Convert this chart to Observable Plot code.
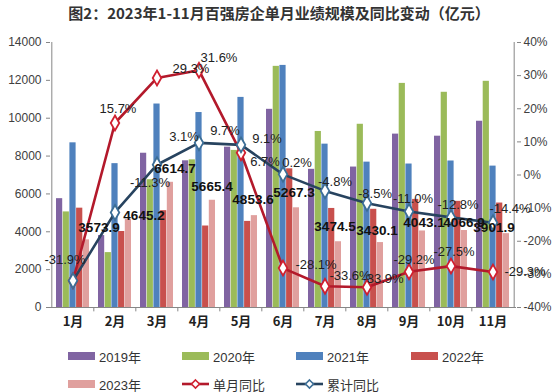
<!DOCTYPE html>
<html><head><meta charset="utf-8">
<script src="https://cdn.jsdelivr.net/npm/d3@7"></script>
<script src="https://cdn.jsdelivr.net/npm/@observablehq/plot@0.6"></script>
<style>
body{margin:0;background:#fff;}
#wrap{position:relative;width:558px;height:392px;overflow:hidden;font-family:"Liberation Sans",Arial,sans-serif;background:#fff;}
#title{position:absolute;left:0;top:0;width:558px;text-align:center;font-weight:bold;font-size:15px;font-family:"Noto Sans CJK SC",sans-serif;line-height:26px;color:#333;}
#chart{position:absolute;left:0;top:28px;}
.lg{position:absolute;height:16px;display:flex;align-items:center;font-size:13px;color:#333;font-family:"Liberation Sans","Noto Sans CJK SC",sans-serif;}
.sw{width:27px;height:8px;margin-right:4px;}
.lg svg{margin-right:4px;}
</style></head><body>
<div id="wrap">
<div id="title">图2：2023年1-11月百强房企单月业绩规模及同比变动（亿元）</div>
<div id="chart"></div>
<div id="legend"></div>
</div>
<script>
const months = ["1月","2月","3月","4月","5月","6月","7月","8月","9月","10月","11月"];
const v2019 = [5750, 3800, 8150, 7750, 8470, 10470, 7300, 7420, 9160, 9050, 9840];
const v2020 = [5050, 2900, 6750, 7800, 8300, 12740, 9300, 9680, 11840, 11370, 11950];
const v2021 = [8700, 7600, 10750, 10300, 11100, 12790, 8630, 7680, 7580, 7740, 7470];
const v2022 = [5248, 4015, 5116, 4305, 4549, 7326, 5233, 5189, 5711, 5609, 5519];
const v2023 = [3573.9, 4645.2, 6614.7, 5665.4, 4853.6, 5267.3, 3474.5, 3430.1, 4043.1, 4066.9, 3901.9];
const monthlyYoY = [-31.9, 15.7, 29.3, 31.6, 6.7, -28.1, -33.6, -33.9, -29.2, -27.5, -29.3];
const cumulativeYoY = [-31.9, -11.3, 3.1, 9.7, 9.1, 0.2, -4.8, -8.5, -11.0, -12.8, -14.4];
const leftTicks = [0, 2000, 4000, 6000, 8000, 10000, 12000, 14000];
const rightTicks = [-40, -30, -20, -10, 0, 10, 20, 30, 40];
const seriesNames = ["2019年","2020年","2021年","2022年","2023年"];
const lineNames = ["单月同比","累计同比"];

// styling (not data)
const colors = ["#8064A2","#9BBB59","#4F81BD","#C8504D","#E0A09E"];
const redLine = "#B3192B", blueLine = "#27435F";
const mOff = [null,[3,-14],[34,-9],[20,-12],[24,9],[33,-3],[25,-10],[16,-8],[5,-12],[3,-14],[32,0]];
const cOff = [[-8,-21],[35,-30],[27,-28],[26,-12],[26,-6],[14,-12],[10,-9],[8,-9],[4,-13],[7,-13],[17,-14]];
const bOff = [[26,-12],[29,-4],[18,-14],[13,-14],[12,-16],[11,-15],[10,-15],[10,-12],[15,-8],[13,-8],[1,-6]];

const YMAX = 14000;
const pct = p => (p + 40) / 80 * YMAX;
const rows = months.map((m, i) => ({m, i, v19: v2019[i], v20: v2020[i], v21: v2021[i], v22: v2022[i], v23: v2023[i], my: pct(monthlyYoY[i]), cy: pct(cumulativeYoY[i]), mLabel: monthlyYoY[i].toFixed(1) + "%", cLabel: cumulativeYoY[i].toFixed(1) + "%", bLabel: v2023[i].toFixed(1)}));
const keys = ["v19","v20","v21","v22","v23"];
const BW = 6.7;
const step = 466 / 11;
const axisColor = "#868686";

const marks = [];
keys.forEach((k, j) => {
  marks.push(Plot.barY(rows, {x: "m", y: k, fill: colors[j], insetLeft: j * BW, insetRight: (4 - j) * BW}));
});
// axes lines
marks.push(Plot.ruleY([0], {stroke: axisColor}));
marks.push(Plot.ruleX([months[0]], {x: d => d, dx: -step / 2, y1: 0, y2: YMAX, stroke: axisColor}));
marks.push(Plot.ruleX([months[10]], {x: d => d, dx: step / 2, y1: 0, y2: YMAX, stroke: axisColor}));
marks.push(Plot.ruleX(months.slice(1), {x: d => d, dx: -step / 2, y1: 0, y2: -230, stroke: axisColor}));
marks.push(Plot.axisY({ticks: leftTicks, tickFormat: d => String(d), tickSize: 4, tickPadding: 5, fontSize: 12, label: null, color: "#404040", stroke: axisColor}));
marks.push(Plot.axisY({anchor: "right", ticks: rightTicks.map(pct), tickFormat: v => Math.round(v / YMAX * 80 - 40) + "%", tickSize: 4, tickPadding: 3, fontSize: 12, label: null, color: "#404040", stroke: axisColor}));
marks.push(Plot.axisX({tickSize: 0, tickPadding: 9, fontSize: 13, fontWeight: "bold", label: null, color: "#222", fontFamily: "Noto Sans CJK SC"}));
// lines
marks.push(Plot.line(rows, {x: "m", y: "my", stroke: redLine, strokeWidth: 2.6}));
marks.push(Plot.line(rows, {x: "m", y: "cy", stroke: blueLine, strokeWidth: 2.6}));
marks.push(Plot.dot(rows, {x: "m", y: "my", symbol: "diamond", r: 4.5, fill: "white", stroke: "#D02030", strokeWidth: 1.8}));
marks.push(Plot.dot(rows, {x: "m", y: "cy", symbol: "diamond", r: 4.5, fill: "white", stroke: "#3C6E96", strokeWidth: 1.8}));
// labels
rows.forEach((r, i) => {
  if (mOff[i]) marks.push(Plot.text([r], {x: "m", y: "my", text: "mLabel", dx: mOff[i][0], dy: mOff[i][1], fontSize: 13, fill: "#222"}));
  marks.push(Plot.text([r], {x: "m", y: "cy", text: "cLabel", dx: cOff[i][0], dy: cOff[i][1], fontSize: 13, fill: "#222"}));
  marks.push(Plot.text([r], {x: "m", y: "v23", text: "bLabel", dx: bOff[i][0], dy: bOff[i][1], fontSize: 13.5, fontWeight: "bold", fill: "#111"}));
});

const chart = Plot.plot({
  width: 558, height: 322,
  marginLeft: 50, marginRight: 42, marginTop: 14, marginBottom: 43,
  x: {type: "band", domain: months, paddingInner: 0.21, paddingOuter: 0.105, axis: null},
  y: {domain: [0, YMAX], axis: null},
  style: {fontFamily: "Liberation Sans, Arial, sans-serif", background: "transparent", overflow: "visible"},
  marks
});
document.getElementById("chart").appendChild(chart);

// legend
const lg = document.getElementById("legend");
const colX = [68, 182, 296, 411];
const items = [];
seriesNames.forEach((n, j) => items.push({type: "box", name: n, color: colors[j]}));
items.push({type: "line", name: lineNames[0], color: redLine, mk: "#D02030"});
items.push({type: "line", name: lineNames[1], color: blueLine, mk: "#3C6E96"});
items.forEach((it, k) => {
  const row = Math.floor(k / 4), col = k % 4;
  const d = document.createElement("div");
  d.className = "lg";
  d.style.left = colX[col] + "px";
  d.style.top = (row === 0 ? 348 : 376) + "px";
  if (it.type === "box") {
    d.innerHTML = `<div class="sw" style="background:${it.color}"></div><span>${it.name}</span>`;
  } else {
    d.innerHTML = `<svg width="27" height="12"><line x1="0" y1="6" x2="27" y2="6" stroke="${it.color}" stroke-width="2.6"/><path d="M13.5 2 L17.5 6 L13.5 10 L9.5 6 Z" fill="white" stroke="${it.mk}" stroke-width="1.6"/></svg><span>${it.name}</span>`;
  }
  lg.appendChild(d);
});
</script>
</body></html>
